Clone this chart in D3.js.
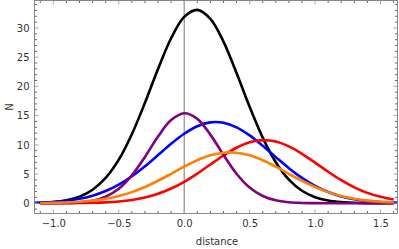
<!DOCTYPE html>
<html>
<head>
<meta charset="utf-8">
<script src="https://cdn.jsdelivr.net/npm/d3@7"></script>
<style>
  body { margin: 0; background: #fff; }
  text { font-family: "DejaVu Sans", sans-serif; fill: #333; }
</style>
</head>
<body>
<script>
// sample positions (distance)
const xsWide = [-1.2, -1.1, -1.0, -0.9, -0.8, -0.7, -0.6, -0.5, -0.4, -0.3, -0.2, -0.1, 0.0, 0.1, 0.2, 0.3, 0.4, 0.5, 0.6, 0.7, 0.8, 0.9, 1.0, 1.1, 1.2, 1.3, 1.4, 1.5, 1.6, 1.7];
const xs = xsWide.slice(1, 29);

const blackN  = [0.08, 0.21, 0.51, 1.13, 2.31, 4.33, 7.45, 11.81, 17.18, 22.98, 28.24, 31.89, 33.1, 31.56, 27.67, 22.28, 16.5, 11.22, 7.01, 4.03, 2.13, 1.03, 0.46, 0.19, 0.07, 0.02, 0.01, 0.0];
const purpleN = [0.0, 0.01, 0.04, 0.15, 0.44, 1.13, 2.49, 4.77, 7.92, 11.41, 14.23, 15.4, 14.44, 11.74, 8.27, 5.05, 2.68, 1.23, 0.49, 0.17, 0.05, 0.01, 0.0, 0.0, 0.0, 0.0, 0.0, 0.0];
const blueN   = [0.05, 0.11, 0.22, 0.42, 0.75, 1.29, 2.08, 3.18, 4.61, 6.33, 8.24, 10.17, 11.89, 13.18, 13.84, 13.77, 12.99, 11.61, 9.83, 7.89, 6.0, 4.33, 2.95, 1.91, 1.17, 0.68, 0.38, 0.2, 0.1, 0.05];
const redN    = [0.0, 0.01, 0.01, 0.03, 0.07, 0.15, 0.3, 0.56, 0.98, 1.61, 2.51, 3.67, 5.08, 6.63, 8.17, 9.5, 10.43, 10.8, 10.55, 9.73, 8.46, 6.95, 5.39, 3.94, 2.72, 1.77, 1.09, 0.63];
const orangeN = [0.03, 0.06, 0.13, 0.24, 0.44, 0.76, 1.23, 1.9, 2.78, 3.84, 5.03, 6.25, 7.35, 8.19, 8.64, 8.64, 8.19, 7.35, 6.25, 5.03, 3.84, 2.78, 1.9, 1.23, 0.76, 0.44, 0.24, 0.13];

const xTicks = [-1.0, -0.5, 0.0, 0.5, 1.0, 1.5];
const yTicks = [0, 5, 10, 15, 20, 25, 30];

const width = 399, height = 249;
const mLeft = 34.5, mRight = 397.5, mTop = 0.5, mBottom = 213.5;

const svg = d3.select('body').append('svg')
  .attr('width', width)
  .attr('height', height);

const x = d3.scaleLinear().domain([-1.144, 1.63]).range([mLeft, mRight]);
const y = d3.scaleLinear().domain([-1.76, 34.7]).range([mBottom, mTop]);

svg.append('defs').append('clipPath').attr('id', 'clip')
  .append('rect')
  .attr('x', mLeft).attr('y', mTop)
  .attr('width', mRight - mLeft).attr('height', mBottom - mTop);

// vertical line at zero
svg.append('line')
  .attr('x1', x(0)).attr('x2', x(0))
  .attr('y1', mTop).attr('y2', mBottom)
  .attr('stroke', '#777')
  .attr('stroke-width', 1);

const line = d3.line()
  .x((d) => x(d[0]))
  .y((d) => y(d[1]))
  .curve(d3.curveCatmullRom);

const series = [
  { xs: xs, ys: blackN, color: '#000000' },
  { xs: xsWide, ys: blueN, color: '#0000ff' },
  { xs: xs, ys: redN, color: '#ff0000' },
  { xs: xs, ys: purpleN, color: '#800080' },
  { xs: xs, ys: orangeN, color: '#ff8000' }
];

svg.append('g').attr('clip-path', 'url(#clip)')
  .selectAll('path')
  .data(series)
  .enter()
  .append('path')
  .attr('d', (s) => line(s.xs.map((v, i) => [v, s.ys[i]])))
  .attr('fill', 'none')
  .attr('stroke', (s) => s.color)
  .attr('stroke-width', 2.6)
  .attr('stroke-linejoin', 'round');

// frame axes
const xMinor = d3.range(-11, 17).map((i) => i / 10);
const yMinor = d3.range(-1, 35);

const axisBottom = d3.axisBottom(x).tickValues(xTicks)
  .tickFormat(d3.format('.1f')).tickSize(0).tickPadding(6);
const gx = svg.append('g').attr('transform', 'translate(0,' + mBottom + ')').call(axisBottom);
gx.select('.domain').remove();
gx.selectAll('text').attr('font-size', 10).attr('fill', '#333')
  .text((d) => d3.format('.1f')(d).replace('-', '\u2212'));

const axisLeft = d3.axisLeft(y).tickValues(yTicks).tickSize(0).tickPadding(5);
const gy = svg.append('g').attr('transform', 'translate(' + mLeft + ',0)').call(axisLeft);
gy.select('.domain').remove();
gy.selectAll('text').attr('font-size', 10).attr('fill', '#333');

const ticks = svg.append('g').attr('stroke-width', 1);
xMinor.forEach((v) => {
  const major = Math.abs(v * 2 - Math.round(v * 2)) < 1e-6;
  const len = major ? 4 : 2.5;
  const col = major ? '#aaa' : '#666';
  ticks.append('line').attr('x1', x(v)).attr('x2', x(v)).attr('y1', mBottom).attr('y2', mBottom - len).attr('stroke', col);
  ticks.append('line').attr('x1', x(v)).attr('x2', x(v)).attr('y1', mTop).attr('y2', mTop + len).attr('stroke', col);
});
yMinor.forEach((v) => {
  const major = v % 5 === 0;
  const len = major ? 4 : 2.5;
  const col = major ? '#aaa' : '#666';
  ticks.append('line').attr('x1', mLeft).attr('x2', mLeft + len).attr('y1', y(v)).attr('y2', y(v)).attr('stroke', col);
  ticks.append('line').attr('x1', mRight).attr('x2', mRight - len).attr('y1', y(v)).attr('y2', y(v)).attr('stroke', col);
});

svg.append('rect')
  .attr('x', mLeft).attr('y', mTop)
  .attr('width', mRight - mLeft).attr('height', mBottom - mTop)
  .attr('fill', 'none')
  .attr('stroke', '#888')
  .attr('stroke-width', 1);

svg.append('text')
  .text('distance')
  .attr('x', 217).attr('y', 245)
  .attr('text-anchor', 'middle')
  .attr('font-size', 10);

svg.append('text')
  .text('N')
  .attr('transform', 'translate(13,107) rotate(-90)')
  .attr('text-anchor', 'middle')
  .attr('font-size', 10);
</script>
</body>
</html>
